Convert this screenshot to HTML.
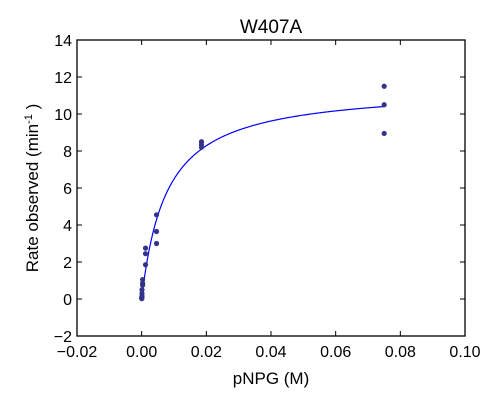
<!DOCTYPE html>
<html><head><meta charset="utf-8"><style>
body{margin:0;background:#fff;}
svg text{font-family:"Liberation Sans","DejaVu Sans",sans-serif;fill:#000;}
</style></head><body>
<svg id="chart" width="500" height="400" xmlns="http://www.w3.org/2000/svg">
<rect width="500" height="400" fill="#fff"/>
<text x="271" y="33" font-size="19" text-anchor="middle">W407A</text>
<text x="271" y="384" font-size="17" text-anchor="middle">pNPG (M)</text>
<text transform="translate(38,188) rotate(-90)" font-size="17" text-anchor="middle">Rate observed (min<tspan font-size="11" dy="-6">-1</tspan><tspan dy="6"> )</tspan></text>
</svg>
<script>
const xTicks=[-0.02,0,0.02,0.04,0.06,0.08,0.10];
const xTickLabels=["\u22120.02","0.00","0.02","0.04","0.06","0.08","0.10"];
const yTicks=[-2,0,2,4,6,8,10,12,14];
const yTickLabels=["\u22122","0","2","4","6","8","10","12","14"];
const substrate=[0.075,0.075,0.075,0.0185,0.0185,0.0185,0.0046,0.0046,0.0046,0.0012,0.0012,0.0012,0.0003,0.0003,0.0003,0.0001,0.0001,0.0001,0.00003,0.00003,0.00003];
const rates=[11.5,10.5,8.95,8.5,8.35,8.2,4.55,3.65,3.0,2.75,2.45,1.85,1.05,0.85,0.75,0.5,0.3,0.15,0.1,0.05,0.02];
const vmax=11.47, km=0.00769;
const L=77,R=465,T=40,B=336,X0=-0.02,X1=0.10,Y0=-2,Y1=14;
const sx=v=>L+(v-X0)/(X1-X0)*(R-L);
const sy=v=>B-(v-Y0)/(Y1-Y0)*(B-T);
const svg=document.getElementById('chart'),NS="http://www.w3.org/2000/svg";
function mk(t,a,p){const e=document.createElementNS(NS,t);for(const k in a)e.setAttribute(k,a[k]);(p||svg).appendChild(e);return e;}
const g=mk('g',{});


let d="";for(let i=0;i<=300;i++){const x=0.075*i/300;const y=vmax*x/(km+x);d+=(i?"L":"M")+sx(x).toFixed(2)+","+sy(y).toFixed(2);}
const c=mk('path',{d:d,fill:'none',stroke:'#0000ff','stroke-width':1.2},g);


substrate.forEach((x,i)=>{const p=mk('circle',{cx:sx(x),cy:sy(rates[i]),r:2.6,fill:'#33338a'},g);

});
const fr=mk('rect',{x:L,y:T,width:R-L,height:B-T,fill:'none',stroke:'#000','stroke-width':1.3},g);


xTicks.forEach((v,i)=>{const x=sx(v);
mk('line',{x1:x,x2:x,y1:B,y2:B-5,stroke:'#000'},g);mk('line',{x1:x,x2:x,y1:T,y2:T+5,stroke:'#000'},g);
const t=mk('text',{x:x,y:B+21,'font-size':16,'text-anchor':'middle'},g);t.textContent=xTickLabels[i];

});
yTicks.forEach((v,i)=>{const y=sy(v);
mk('line',{x1:L,x2:L+5,y1:y,y2:y,stroke:'#000'},g);mk('line',{x1:R,x2:R-5,y1:y,y2:y,stroke:'#000'},g);
const t=mk('text',{x:L-5,y:y+6,'font-size':16,'text-anchor':'end'},g);t.textContent=yTickLabels[i];

});
</script>
</body></html>
